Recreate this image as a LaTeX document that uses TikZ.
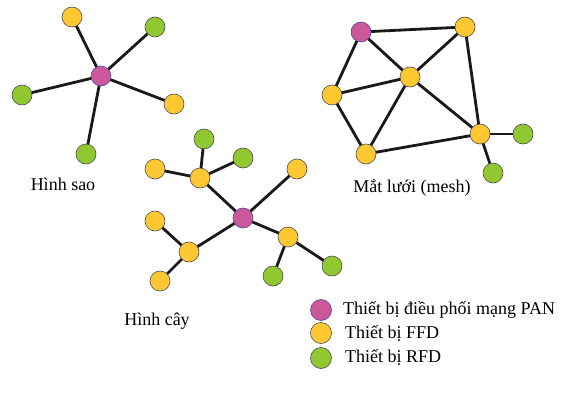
\documentclass[tikz,border=0pt]{standalone}
\usepackage{fontspec}
\setmainfont{Liberation Serif}
\definecolor{pan}{RGB}{204,88,155}
\definecolor{ffd}{RGB}{255,200,50}
\definecolor{rfd}{RGB}{145,200,50}
\begin{document}
\begin{tikzpicture}[x=1pt,y=-1pt,
  dev/.style={circle,draw=black!70,line width=0.6pt,minimum size=20pt,inner sep=0pt},
  coord/.style={dev,fill=pan,draw=blue!40!black!70},
  full/.style={dev,fill=ffd},
  red/.style={dev,fill=rfd},
  link/.style={line width=2.8pt,black!90},
  lbl/.style={font=\fontsize{18}{20}\selectfont,inner sep=0pt}]
\useasboundingbox (0,0) rectangle (575,404);
% star
\coordinate (s0) at (101,76);
\coordinate (s1) at (72,17);
\coordinate (s2) at (155,27);
\coordinate (s3) at (22,95);
\coordinate (s4) at (174,104);
\coordinate (s5) at (86,154);
\foreach \n in {s1,s2,s3,s4,s5} \draw[link] (s0) -- (\n);
\node[coord] (n0) at (s0) {};
\node[full] (n1) at (s1) {};
\node[red] (n2) at (s2) {};
\node[red] (n3) at (s3) {};
\node[full] (n4) at (s4) {};
\node[red] (n5) at (s5) {};
\node[lbl] (ls) at (63,184) {Hình sao};
% mesh
\coordinate (m1) at (361,32);
\coordinate (m2) at (465,27);
\coordinate (m3) at (410,77);
\coordinate (m4) at (332,95);
\coordinate (m5) at (366,154);
\coordinate (m6) at (480,134);
\coordinate (m7) at (523,134);
\coordinate (m8) at (493,173);
\foreach \a/\b in {m1/m2,m1/m3,m1/m4,m4/m3,m4/m5,m3/m2,m3/m5,m3/m6,m2/m6,m5/m6,m6/m7,m6/m8}
  \draw[link] (\a) -- (\b);
\node[coord] (mn1) at (m1) {};
\foreach \n in {m2,m3,m4,m5,m6} \node[full] (n\n) at (\n) {};
\node[red] (mn7) at (m7) {};
\node[red] (mn8) at (m8) {};
\node[lbl] (lm) at (412,188) {Mắt lưới (mesh)};
% tree
\coordinate (t0) at (243,218);
\coordinate (t1) at (200,178);
\coordinate (t2) at (204,139);
\coordinate (t3) at (243,158);
\coordinate (t4) at (155,169);
\coordinate (t5) at (297,169);
\coordinate (t6) at (288,237);
\coordinate (t7) at (332,266);
\coordinate (t8) at (273,276);
\coordinate (t9) at (189,252);
\coordinate (t10) at (155,221);
\coordinate (t11) at (160,281);
\foreach \a/\b in {t0/t1,t1/t2,t1/t3,t1/t4,t0/t5,t0/t6,t6/t7,t6/t8,t0/t9,t9/t10,t9/t11}
  \draw[link] (\a) -- (\b);
\node[coord] (tn0) at (t0) {};
\foreach \n in {t1,t4,t5,t6,t9,t10,t11} \node[full] (n\n) at (\n) {};
\foreach \n in {t2,t3,t7,t8} \node[red] (n\n) at (\n) {};
\node[lbl] (lt) at (157,321) {Hình cây};
% legend
\node[coord,minimum size=21pt] (k1) at (321,310) {};
\node[full,minimum size=21pt] (k2) at (321,333) {};
\node[red,minimum size=21pt] (k3) at (321,358) {};
\node[lbl,anchor=west] (kt1) at (343,310) {Thiết bị điều phối mạng PAN};
\node[lbl,anchor=west] (kt2) at (345,333) {Thiết bị FFD};
\node[lbl,anchor=west] (kt3) at (345,357) {Thiết bị RFD};
\end{tikzpicture}
\end{document}
